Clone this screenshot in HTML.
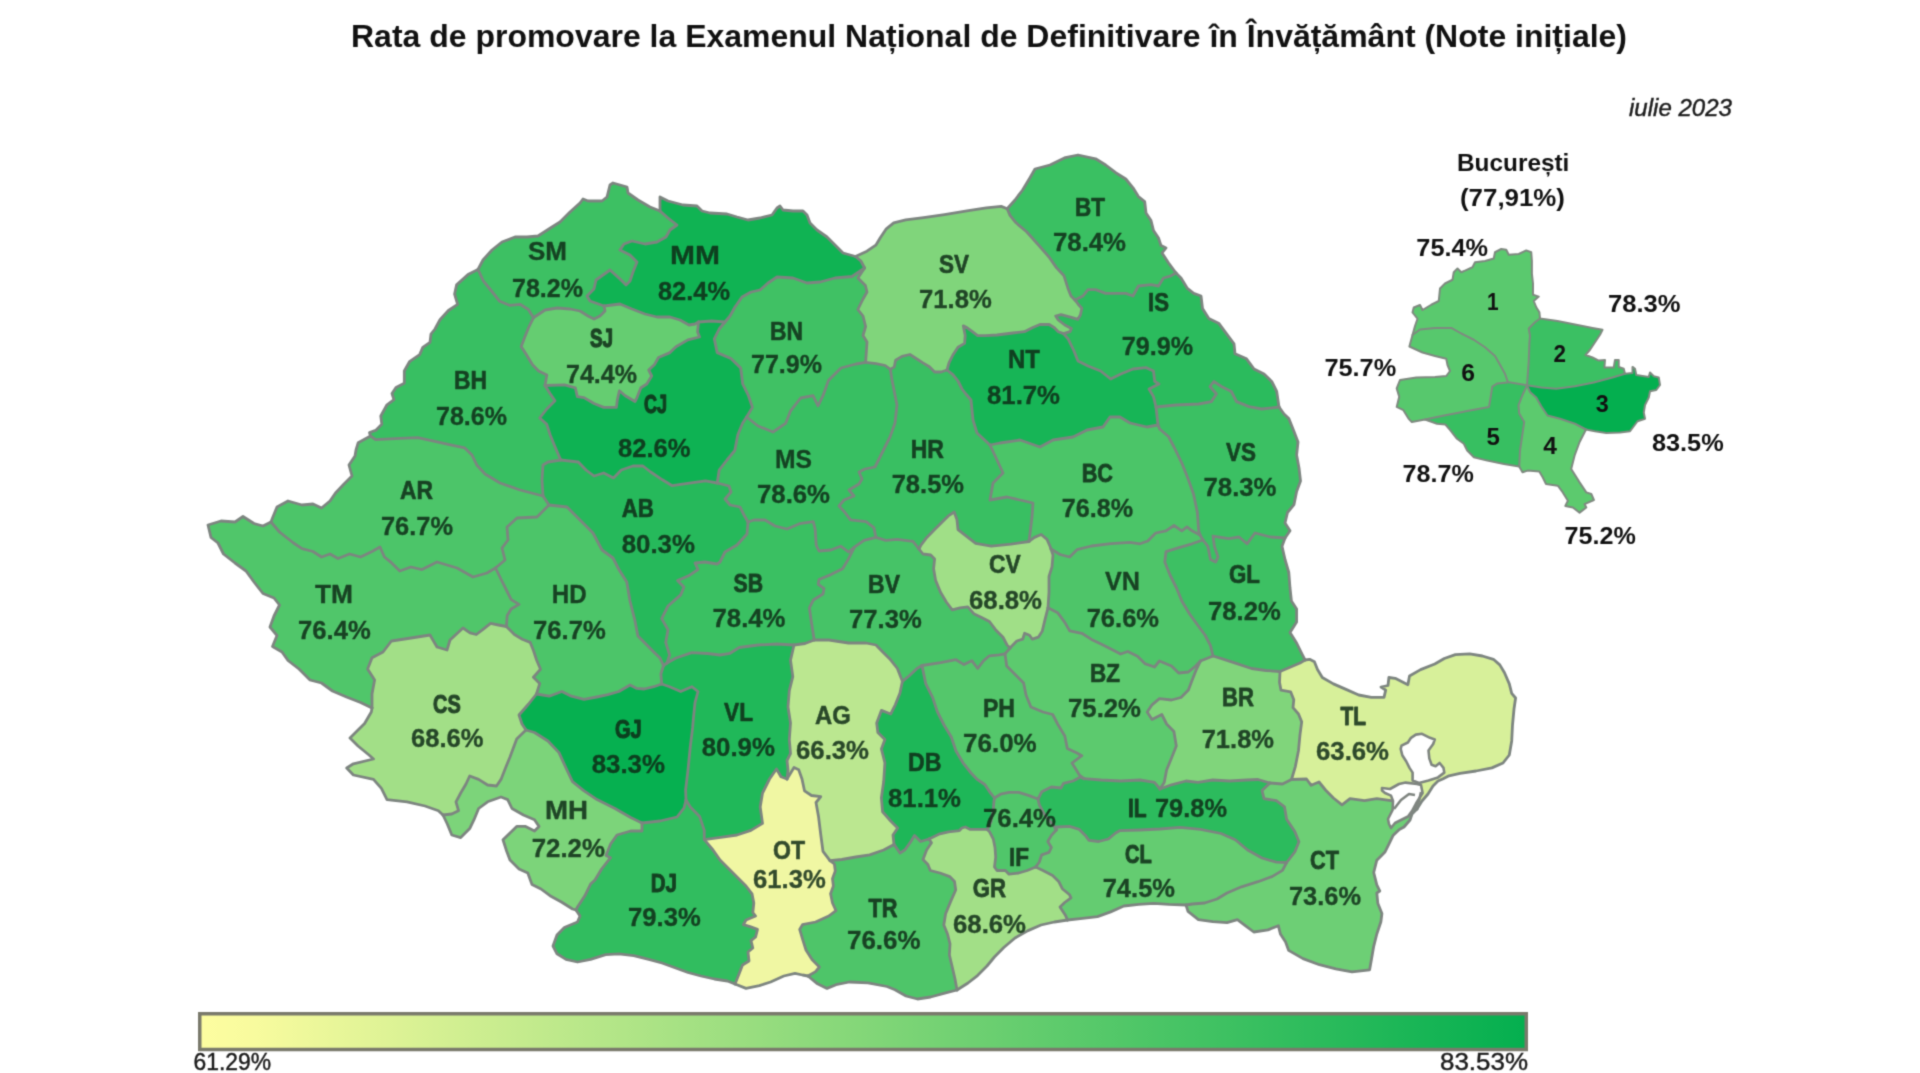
<!DOCTYPE html>
<html lang="ro">
<head>
<meta charset="utf-8">
<title>Rata de promovare la Examenul Național de Definitivare în Învățământ</title>
<style>
html,body{margin:0;padding:0;background:#fff;}
body{width:1920px;height:1073px;overflow:hidden;position:relative;font-family:"Liberation Sans",sans-serif;}
svg{position:absolute;left:0;top:0;display:block;}
.cty polygon{stroke:none;}
.brd polyline{fill:none;stroke:#7d8580;stroke-width:2.8;stroke-linejoin:round;stroke-linecap:round;}
.lab{opacity:.84;}
.lab text{font-family:"Liberation Sans",sans-serif;font-weight:700;font-size:25.2px;fill:#0e2a16;stroke-linejoin:round;}
.buc polygon{stroke:none;}
.bbrd polyline,.bbrd polygon{fill:none;stroke:#7f8a80;stroke-width:2;stroke-linejoin:round;stroke-linecap:round;}
.blab text{font-family:"Liberation Sans",sans-serif;font-weight:700;font-size:24px;fill:#111;}
</style>
</head>
<body>
<svg width="1920" height="1073" viewBox="0 0 1920 1073">
<defs>
<filter id="sb" x="0" y="0" width="1920" height="1073" filterUnits="userSpaceOnUse" color-interpolation-filters="sRGB"><feConvolveMatrix order="3" kernelMatrix="1 4 1 4 16 4 1 4 1" edgeMode="duplicate" preserveAlpha="true"/></filter>
<linearGradient id="lg" x1="0" y1="0" x2="1" y2="0">
<stop offset="0" stop-color="#fdfda0"/><stop offset=".04" stop-color="#f8fb9e"/><stop offset="1" stop-color="#04af4f"/>
</linearGradient>
</defs>
<g filter="url(#sb)">
<rect width="1920" height="1073" fill="#fff"/>
<text x="351" y="47" textLength="1276" lengthAdjust="spacingAndGlyphs" font-family="Liberation Sans, sans-serif" font-weight="700" font-size="32" fill="#111">Rata de promovare la Examenul Național de Definitivare în Învățământ (Note inițiale)</text>
<text x="1629" y="116" textLength="103" lengthAdjust="spacingAndGlyphs" font-family="Liberation Sans, sans-serif" font-style="italic" font-size="24" fill="#1c1c1c" stroke="#1c1c1c" stroke-width=".45">iulie 2023</text>
<g class="cty">
<polygon fill="#3dc063" points="478,269.5 483,260 492,250 502,242 515,237 527,237 538,236 552,227 560,222 570,212 580,203 583,199 588,201 602,201 607,197 610,185 613,183 627,187 628,193 638,200 650,207 660,211 668,218 677,225 670,230 666,237 657,242 645,244 632,241 624,244 620,250 630,255 637,262 633,272 630,281 626,285 620,279 610,270 603,275 596,280 594,289 587,296 590,301 604,306 605,311 600,316 594,319 588,316 580,311 570,309 557,308 545,310 536,316 533.5,317.7 528.4,309.5 520,304.3 510,305.4 499.7,301.3 491.5,291 483.3,280.8"/>
<polygon fill="#10b353" points="660,211 660,197 668,201 683,205 697,206 702,211 710,213 727,214 737,217 748,220 760,218 772,215 777,208 780,206 783,210 793,211 803,211 807,215 810,223 817,230 827,237 835,245 843,253 855.5,256.5 860.9,261 864.6,268 852,276.5 835,278 820,282 807,283 793,278 777,277 768,283 760,290 751,292 742,297 735,307 730,316 725,322 711.4,321 698.5,322 695,324 689,325 680,320 670,317 657,317 645,314 632,309 620,304 604,306 590,301 587,296 594,289 596,280 603,275 610,270 620,279 626,285 630,281 633,272 637,262 630,255 620,250 624,244 632,241 645,244 657,242 666,237 670,230 677,225 668,218"/>
<polygon fill="#38bf62" points="370.5,436 369.5,432.5 375.6,430.4 381.8,424.3 380.8,416 387,404.8 394,399.7 392,393.5 396,387.4 404.3,383.3 404.3,371 409.5,361.7 419.7,354.6 422.8,347.4 430,342.3 431,334 435,329 440,319.7 448.4,310.5 457.6,304.3 454.6,294 456.6,284.9 468,274.6 478,269.5 483.3,280.8 491.5,291 499.7,301.3 510,305.4 520,304.3 528.4,309.5 533.5,317.7 528.4,328 524.3,338.2 521.2,346.4 526.3,354.6 532.5,364.8 538.6,371 546.8,375 545,385.5 550,393.5 555,400.7 546.8,409 539.7,418 546.8,424.3 550,434.5 555,446.8 560.7,460 548,462 543,465 542,480 543,496 520,490 500,483 485,474 477,465.3 472,455 464.8,447.9 450.5,444.8 436,441.7 417.7,437.6 395,438.6 375.6,439.7"/>
<polygon fill="#65cd71" points="533.5,317.7 536,316 545,310 557,308 570,309 580,311 588,316 594,319 600,316 605,311 604,306 620,304 632,309 645,314 657,317 670,317 680,320 689,325 695,324 698.5,322 697.6,332 699.6,337 687.9,339.9 676,346.8 670,352.6 658.5,357.5 654.6,364.4 648.7,370 651.7,376 646.8,384 640.9,387.8 637,397.6 635,401.5 625.2,395.7 619.4,390.8 617.4,399.6 616.4,407.4 603.7,407.4 594,403.5 584,397.6 577.3,396.6 575.3,387.8 564.6,384.9 545,385.5 546.8,375 538.6,371 532.5,364.8 526.3,354.6 521.2,346.4 524.3,338.2 528.4,328"/>
<polygon fill="#0eb253" points="545,385.5 564.6,384.9 575.3,387.8 577.3,396.6 584,397.6 594,403.5 603.7,407.4 616.4,407.4 617.4,399.6 619.4,390.8 625.2,395.7 635,401.5 637,397.6 640.9,387.8 646.8,384 651.7,376 648.7,370 654.6,364.4 658.5,357.5 670,352.6 676,346.8 687.9,339.9 699.6,337 697.6,332 698.5,322 711.4,321 725,322 719.2,329 714.3,338.9 717.2,352.6 730.9,358.5 740.7,368 742.7,384 748.5,395.7 752.4,407.4 746.6,417 742.7,423 737.8,434.8 734.8,450.5 727,460 719.2,470 717.2,483 705.5,480.8 685.9,483.7 672.2,485.7 662.4,479.8 650.7,472 642.9,466 633,466 621.3,470 613.5,477.9 603.7,473 594,476 586,470 578.3,462 560.7,460 555,446.8 550,434.5 546.8,424.3 539.7,418 546.8,409 555,400.7 550,393.5"/>
<polygon fill="#40c164" points="725,322 730,316 735,307 742,297 751,292 760,290 768,283 777,277 793,278 807,283 820,282 835,278 852,276.5 864.6,268 857.9,278 865.4,285.5 867,292 863,299 857.8,309.5 863,316 865.6,326.5 863,335.6 867,342 866.3,352.5 865.6,362.3 856,364 841,368 828.4,380.6 823,395.7 818,405.8 813,395.7 800.7,398 790.6,410.8 785.6,423.4 773,432 758,426 746.6,417 752.4,407.4 748.5,395.7 742.7,384 740.7,368 730.9,358.5 717.2,352.6 714.3,338.9 719.2,329"/>
<polygon fill="#80d57b" points="855.5,256.5 866.9,251.2 875.8,245.2 880.3,237.8 886.3,228.8 893.7,222.8 905.7,219.9 923.6,217.6 944.5,214.6 966.9,210.9 986.3,207.9 1001.2,206.4 1007.2,208.7 1010,215.4 1016,222.8 1026.6,231.8 1038.5,245 1049,257 1056.4,267.6 1064,275.8 1068,288.4 1071,296 1075,300 1078,304 1081.8,308.2 1080.5,314.7 1077.9,319.3 1071.4,317.3 1061,314.7 1055.7,316 1058.3,320 1064.8,325 1071.4,328.4 1070,331.7 1063.5,333.6 1058.3,331.7 1054.4,327.8 1049.2,324.5 1040,324.5 1032.3,327.8 1024.5,331.7 1012.8,333 997,335 985.4,335.6 977.6,335.6 972.4,331.7 967.2,327.8 963.3,325.8 965.2,335.6 964.6,343.4 958,347.3 952.9,355 949,362.9 947,370 941,372 934.6,372 929.4,366.8 922.9,362.9 915,357.7 909.9,354.5 902,356.4 895.6,360.3 894.3,366.8 890.4,369.4 885.2,365.5 876,363.6 865.6,362.3 866.3,352.5 867,342 863,335.6 865.6,326.5 863,316 857.8,309.5 863,299 867,292 865.4,285.5 857.9,278 864.6,268 860.9,261"/>
<polygon fill="#3ac062" points="1007.2,208.7 1015,200 1022.6,190 1030,177.7 1035,169 1050,165 1065.4,157.6 1078,155 1095.6,158.8 1105.7,165 1115.7,172.7 1125.8,179 1133,187.8 1138.4,196.6 1144.7,201.6 1146,213 1151,220.5 1153.5,230.5 1158.5,238 1161,245.6 1166,248 1162,253 1168.6,263 1176,273 1171,275.8 1163.5,278 1158.5,286 1151,284.6 1138.4,286 1133,296 1125.8,293.4 1118,293.4 1105.7,293.4 1095.6,289.6 1088,289.6 1083,296 1075,300 1071,296 1068,288.4 1064,275.8 1056.4,267.6 1049,257 1038.5,245 1026.6,231.8 1016,222.8 1010,215.4"/>
<polygon fill="#2bbb5d" points="1176,273 1181,278 1187.4,288.4 1193.7,293.4 1201,296 1202.5,308.5 1208.8,318.6 1219,323.6 1226.4,333.7 1234,343.8 1235,353.8 1246.5,358.8 1254,369 1264,374 1271.7,381.5 1276.7,391.5 1279,407 1261.6,409 1249,406.6 1236.5,401.6 1231.4,391.5 1221.4,386.5 1213.8,381.5 1210,386.5 1216.4,394 1211.3,401.6 1198.7,404 1176,405 1156,407 1153.5,396.6 1149,389 1159,384 1154.7,381.5 1153.5,371 1146,367.6 1133,369 1120.8,374 1110.7,379 1100.6,371 1088,366 1078,361 1074,351 1068,338.7 1063.5,333.6 1070,331.7 1071.4,328.4 1064.8,325 1058.3,320 1055.7,316 1061,314.7 1071.4,317.3 1077.9,319.3 1080.5,314.7 1081.8,308.2 1078,304 1075,300 1083,296 1088,289.6 1095.6,289.6 1105.7,293.4 1118,293.4 1125.8,293.4 1133,296 1138.4,286 1151,284.6 1158.5,286 1163.5,278 1171,275.8"/>
<polygon fill="#17b556" points="947,370 949,362.9 952.9,355 958,347.3 964.6,343.4 965.2,335.6 963.3,325.8 967.2,327.8 972.4,331.7 977.6,335.6 985.4,335.6 997,335 1012.8,333 1024.5,331.7 1032.3,327.8 1040,324.5 1049.2,324.5 1054.4,327.8 1058.3,331.7 1063.5,333.6 1068,338.7 1074,351 1078,361 1088,366 1100.6,371 1110.7,379 1120.8,374 1133,369 1146,367.6 1153.5,371 1154.7,381.5 1159,384 1149,389 1153.5,396.6 1156,407 1158,425 1147,427 1130,423 1120,417 1110,417 1103,427 1087,430 1073,437 1053,440 1040,447 1020,440 1000,443 990,445 977,433 973,420 971,400 965.9,394 962,389 958,381 952.9,374.6"/>
<polygon fill="#3bc063" points="1279,407 1284,414 1288.8,418.5 1294,431.5 1298,442 1296.6,455 1299,468 1300.5,481 1296.6,491.6 1294,504.6 1287.5,512.5 1285,523 1290,530.7 1285,538 1270.5,537 1255,533 1247,543.8 1239,537 1228.8,538.6 1218,537 1213,536 1214.4,546.4 1218,556.9 1215.7,562 1210.5,559.5 1207.9,546.4 1203,540 1200,535 1198.7,530.8 1197.4,512.5 1193.5,494 1188,478.6 1181.8,463 1174,447 1168.7,436.8 1159.6,429 1158,425 1156,407 1176,405 1198.7,404 1211.3,401.6 1216.4,394 1210,386.5 1213.8,381.5 1221.4,386.5 1231.4,391.5 1236.5,401.6 1249,406.6 1261.6,409"/>
<polygon fill="#4bc568" points="990,445 1000,443 1020,440 1040,447 1053,440 1073,437 1087,430 1103,427 1110,417 1120,417 1130,423 1147,427 1158,425 1159.6,429 1168.7,436.8 1174,447 1181.8,463 1188,478.6 1193.5,494 1197.4,512.5 1198.7,530.8 1200,535 1192,530.8 1187,526.9 1181.8,530.8 1174,525.5 1166,530.8 1155.7,533 1147.8,541 1140,543.8 1130,542.4 1110.9,543.6 1091.5,546 1077,549.7 1069.7,557 1060,554.5 1051,549 1050,546.2 1047,539.4 1041.2,534.5 1034.4,537.4 1029,541.5 1032,517 1033,503 1020,500 1007,497 990,500 993,483 1003,473 997,460"/>
<polygon fill="#39bf62" points="890.4,369.4 894.3,366.8 895.6,360.3 902,356.4 909.9,354.5 915,357.7 922.9,362.9 929.4,366.8 934.6,372 941,372 947,370 952.9,374.6 958,381 962,389 965.9,394 971,400 973,420 977,433 990,445 997,460 1003,473 993,483 990,500 1007,497 1020,500 1033,503 1032,517 1029,541.5 1010.9,544.2 991.3,546.2 975.7,543.3 967.9,537.4 958,529.6 957,519.8 954.2,512 948.3,515.9 942.4,521.7 934.6,529.6 926.8,537.4 920.9,545.2 919,549 913,541.3 897.4,539.4 885.7,540.3 875.9,537.4 873.9,527.6 866,521.7 850.5,519.8 844.6,512 839,506 844,500 854,496 849,490 859,484 862,479 859,472 865,469 875,467 881,455 890,437 895,423 897,405 894.3,391.6 891.7,378.5"/>
<polygon fill="#38bf62" points="746.6,417 758,426 773,432 785.6,423.4 790.6,410.8 800.7,398 813,395.7 818,405.8 823,395.7 828.4,380.6 841,368 856,364 865.6,362.3 876,363.6 885.2,365.5 890.4,369.4 891.7,378.5 894.3,391.6 897,405 895,423 890,437 881,455 875,467 865,469 859,472 862,479 859,484 849,490 854,496 844,500 839,506 844.6,512 850.5,519.8 866,521.7 873.9,527.6 875.9,537.4 864,540.3 854.4,547.2 848.5,552 840.7,546.2 830.9,550 819,551 816.2,545.2 815.2,529.6 813.3,521.7 799.6,523.7 787,529 775,526 765,520 754,520 748,522 744,515 740,507 730,505 725,499 731,492 729,486 717.2,483 719.2,470 727,460 734.8,450.5 737.8,434.8 742.7,423"/>
<polygon fill="#26b95b" points="560.7,460 578.3,462 586,470 594,476 603.7,473 613.5,477.9 621.3,470 633,466 642.9,466 650.7,472 662.4,479.8 672.2,485.7 685.9,483.7 705.5,480.8 717.2,483 729,486 731,492 725,499 730,505 740,507 744,515 748,522 747,534 737,545 725,552 720,562 717,564 705,562 695,563 698,569.5 688.6,575.8 677.5,580.6 683.9,587 680.7,594.9 668,606 661.7,618.6 668,629.7 665.7,642.4 669.6,655 667,663 663.5,665.5 660,658 653.8,651.9 645.9,644 637.9,636 634.8,620 630,601 626.8,582 618.9,569.5 613,558 602,550 593,533 580,520 567,507 549,505 543,496 542,480 543,465 548,462"/>
<polygon fill="#4cc569" points="271,522 272.5,518 277,507 288,501 302,505 313,504 321.5,508 330,501 335.5,493 344,484 352,476 349,465 355,456 356,450 358.2,442.7 370.5,436 375.6,439.7 395,438.6 417.7,437.6 436,441.7 450.5,444.8 464.8,447.9 472,455 477,465.3 485,474 500,483 520,490 543,496 549,505 537,517 517,518 507,527 508,540 502,548 505,560 495.5,568 487,573 473,577 457,568 437,562 422,569.6 411,567 399.8,571 391.4,562.7 384.4,557 380,547 372,551.5 360.6,557 349.5,554 338,558.5 330,554 321.5,557 313,551.5 302,548.7 293.5,543 279.5,532"/>
<polygon fill="#50c66a" points="372,708 360.6,702.5 346.5,697 332.5,691 321.5,683 310,680 299,669 288,660.5 282,652 272.5,646.5 277,635.5 270,627 274,616 279.5,605 274,598 263,593.5 254,582 246,571 235,563 223.5,554 218,543 211,537.5 208,525 221,521 235,522 243,516.5 254,523.5 263,526 271,522 279.5,532 293.5,543 302,548.7 313,551.5 321.5,557 330,554 338,558.5 349.5,554 360.6,557 372,551.5 380,547 384.4,557 391.4,562.7 399.8,571 411,567 422,569.6 437,562 457,568 473,577 487,573 495.5,568 500.9,579 506.4,590 511.2,599.6 519,604.4 511.2,609 507.2,615.4 506.4,626.5 498.5,625 490.6,623.4 482.7,629.7 476.3,634.5 470,632.9 463,628 450,640 447,650 437,647 430,635 411,638 391.4,641 383,652 372,657.8 367.6,669 374.6,680 372,694"/>
<polygon fill="#4cc569" points="495.5,568 505,560 502,548 508,540 507,527 517,518 537,517 549,505 567,507 580,520 593,533 602,550 613,558 618.9,569.5 626.8,582 630,601 634.8,620 637.9,636 645.9,644 653.8,651.9 660,658 663.5,665.5 660.9,674 661.7,684 653.8,686.7 644.3,689 636.3,688.3 630,685 618.9,691.5 607.8,694.7 596.7,697 584,699.4 571.4,696.2 561.9,691.5 549.2,696.2 536.5,694 539.7,683.6 533.4,677.2 540.5,669.3 536.5,659.8 533.4,650.3 530.2,642.4 522.3,639.2 514.4,634.5 506.4,626.5 507.2,615.4 511.2,609 519,604.4 511.2,599.6 506.4,590 500.9,579"/>
<polygon fill="#a2df87" points="443,815 438.4,810.7 425,806 407,801.8 387,799.6 381.4,788.4 373.5,779.4 353.4,775 346.7,768 353.4,763.8 373.5,759 369,755 358,746 350,738 358,730 364.6,723.5 371.3,712 372,708 372,694 374.6,680 367.6,669 372,657.8 383,652 391.4,641 411,638 430,635 437,647 447,650 450,640 463,628 470,632.9 476.3,634.5 482.7,629.7 490.6,623.4 498.5,625 506.4,626.5 514.4,634.5 522.3,639.2 530.2,642.4 533.4,650.3 536.5,659.8 540.5,669.3 533.4,677.2 539.7,683.6 536.5,694 528.6,704 519,715 522,724 526,730 516.7,739 510,757 505.5,768 501,779.4 496.5,786 487.6,785 478.6,779.4 469.7,776 466,784 460.7,793 456,801.8 458.5,810.7 451.8,814"/>
<polygon fill="#7cd47a" points="576,910 572.5,909 561.4,902 550,895.7 541,889 532,884.5 527.8,873 519,869 510,860 506.6,851 503,839.8 510,833 516.7,826.4 525.6,826.4 534.5,831 539,826.4 534.5,819.7 523.4,815 512,808.5 507.7,799.6 501,797 487.6,801.8 478.6,808.5 474,819.7 469.7,828.6 460.7,837.6 451.8,835 447.3,824 443,815 451.8,814 458.5,810.7 456,801.8 460.7,793 466,784 469.7,776 478.6,779.4 487.6,785 496.5,786 501,779.4 505.5,768 510,757 516.7,739 526,730 534.5,732.5 548,741 559,752.6 566,768 572.5,781.7 583.7,790.6 597,799.6 615,808.5 630.7,817.5 642,823 642,831 630.7,831 617,835 610.6,844 606,855.5 610.6,857.7 601.6,869 595,880 590.6,884 585,895.6 577.5,907"/>
<polygon fill="#06b050" points="536.5,694 549.2,696.2 561.9,691.5 571.4,696.2 584,699.4 596.7,697 607.8,694.7 618.9,691.5 630,685 636.3,688.3 644.3,689 653.8,686.7 661.7,684 669.6,686.7 680.7,691.5 691.8,686.7 698,691.5 695,702.6 693.4,718.4 692.6,727.9 690.3,746.5 688,769.8 685.6,790 686,800 684,808 677,817 660,821 642,823 630.7,817.5 615,808.5 597,799.6 583.7,790.6 572.5,781.7 566,768 559,752.6 548,741 534.5,732.5 526,730 522,724 519,715 528.6,704"/>
<polygon fill="#20b859" points="661.7,684 660.9,674 663.5,665.5 667,663 676,658 691.8,652.7 707.6,653.5 720,655 730,653.3 739.2,647.5 757.9,645 776.5,644 794,645 790.5,660.3 792.8,676.6 789.3,690.6 788,707 790.5,723 789.3,739.5 790.5,753.5 787,760.5 788,770 787,779 781,776.8 776.5,769 769.5,779 762.5,793 760.2,807 762.5,823.4 750.9,830.4 737,835 720.6,837.4 704.3,839.7 704.3,830.4 699.6,816.4 690.3,807 686,800 685.6,790 688,769.8 690.3,746.5 692.6,727.9 693.4,718.4 695,702.6 698,691.5 691.8,686.7 680.7,691.5 669.6,686.7"/>
<polygon fill="#3ac062" points="667,663 669.6,655 665.7,642.4 668,629.7 661.7,618.6 668,606 680.7,594.9 683.9,587 677.5,580.6 688.6,575.8 698,569.5 695,563 705,562 717,564 720,562 725,552 737,545 747,534 748,522 754,520 765,520 775,526 787,529 799.6,523.7 813.3,521.7 815.2,529.6 816.2,545.2 819,551 830.9,550 840.7,546.2 848.5,552 854.4,547.2 848.5,558.9 842.6,568.7 830.9,574.6 819,579.5 818.2,584.4 824,588.3 823,594 813.3,600 809.4,607.8 811.3,621.5 814.2,640 805,643.5 794,645 776.5,644 757.9,645 739.2,647.5 730,653.3 720,655 707.6,653.5 691.8,652.7 676,658"/>
<polygon fill="#46c367" points="854.4,547.2 864,540.3 875.9,537.4 885.7,540.3 897.4,539.4 913,541.3 919,549 922.9,554 930.7,555 934.6,558.9 933.6,568.7 935.6,580.4 940.5,592.2 946.3,602 952.2,609.8 960,607.8 967.9,606.9 973.7,613.7 981.6,617.6 989.4,621.5 995.3,629.4 1003,637.2 1007,645 1010,648 1005,653.8 999.2,654.8 989.4,655.8 983.6,660.7 977.7,668.5 971.8,660.7 964,664.6 956,659.7 940.5,662.6 922,665.5 917,668.5 909,676 902.4,681.3 897.4,668.5 889.6,658.7 881.8,650.9 876,645 866,643 848.5,643 829,640 814.2,640 811.3,621.5 809.4,607.8 813.3,600 823,594 824,588.3 818.2,584.4 819,579.5 830.9,574.6 842.6,568.7 848.5,558.9"/>
<polygon fill="#a0df87" points="919,549 920.9,545.2 926.8,537.4 934.6,529.6 942.4,521.7 948.3,515.9 954.2,512 957,519.8 958,529.6 967.9,537.4 975.7,543.3 991.3,546.2 1010.9,544.2 1029,541.5 1034.4,537.4 1041.2,534.5 1047,539.4 1050,546.2 1051,549 1053,555 1052,566.8 1049,576.5 1049,592.2 1048,607.8 1045,619.6 1042.2,631.3 1038.3,637.2 1032.4,639.2 1029.5,635.2 1024.6,633.3 1022.7,639.2 1016.8,641 1010,648 1007,645 1003,637.2 995.3,629.4 989.4,621.5 981.6,617.6 973.7,613.7 967.9,606.9 960,607.8 952.2,609.8 946.3,602 940.5,592.2 935.6,580.4 933.6,568.7 934.6,558.9 930.7,555 922.9,554"/>
<polygon fill="#4ec569" points="1051,549 1060,554.5 1069.7,557 1077,549.7 1091.5,546 1110.9,543.6 1130,542.4 1140,543.8 1147.8,541 1155.7,533 1166,530.8 1174,525.5 1181.8,530.8 1187,526.9 1192,530.8 1200,535 1203,540 1192,543.8 1179,547.7 1166,551.7 1164.8,562 1170,575 1176.5,588 1181.8,601 1189.6,614 1197.4,624.8 1205,635 1210.5,645.7 1213,656 1200.5,661 1195.7,666 1188.4,672 1178.7,673 1171.5,666 1159.4,661 1154.5,667 1144.8,663.6 1137.5,656.3 1127.8,651.5 1120.6,654 1110.9,649 1101,644 1091.5,639.4 1081.8,633.3 1069.7,630.9 1064.8,622.4 1057.6,612.7 1048,607.8 1049,592.2 1049,576.5 1052,566.8 1053,555"/>
<polygon fill="#3dc063" points="1285,538 1282,546.4 1285,559.5 1288.8,572.5 1290,588 1291.4,601 1296.6,609 1296.6,622 1290,632.6 1296.6,643 1302,654 1305,660 1300,663 1290.6,667 1280,671.5 1266,670.5 1251.5,668.5 1236.9,663.6 1222.4,658.8 1213,656 1210.5,645.7 1205,635 1197.4,624.8 1189.6,614 1181.8,601 1176.5,588 1170,575 1164.8,562 1166,551.7 1179,547.7 1192,543.8 1203,540 1207.9,546.4 1210.5,559.5 1215.7,562 1218,556.9 1214.4,546.4 1213,536 1218,537 1228.8,538.6 1239,537 1247,543.8 1255,533 1270.5,537"/>
<polygon fill="#5cca6e" points="1048,607.8 1057.6,612.7 1064.8,622.4 1069.7,630.9 1081.8,633.3 1091.5,639.4 1101,644 1110.9,649 1120.6,654 1127.8,651.5 1137.5,656.3 1144.8,663.6 1154.5,667 1159.4,661 1171.5,666 1178.7,673 1188.4,672 1195.7,666 1200.5,661 1195.7,670.9 1192,680.6 1188.4,690 1181,697.5 1171.5,700 1159.4,698.7 1152,704.8 1147.2,712 1152,719.4 1161.8,714.5 1166.6,724 1173.9,731.5 1176.3,746 1171.5,758 1166.6,770 1164.2,782.4 1160,789 1154.5,782.4 1140,780 1120.6,781 1101,780 1084,778.7 1079.4,775 1072,763 1081.8,755.7 1077,753 1067.3,748.4 1064.8,736 1057.6,724 1052.7,714.5 1043,712 1030.9,707 1026,695 1023.6,683 1016.4,675.7 1006.7,666 1005,653.8 1010,648 1016.8,641 1022.7,639.2 1024.6,633.3 1029.5,635.2 1032.4,639.2 1038.3,637.2 1042.2,631.3 1045,619.6"/>
<polygon fill="#80d57b" points="1200.5,661 1213,656 1222.4,658.8 1236.9,663.6 1251.5,668.5 1266,670.5 1280,671.5 1279.5,682.3 1281,690.2 1290.6,691.8 1293.8,699.7 1293,707.7 1298.5,714 1301.7,721.9 1300,734.6 1298.5,750.4 1295.4,766.3 1291.5,779.5 1282.5,784 1270,783 1258,779.5 1246.6,780 1229.6,781 1212.7,780 1198,782.4 1186,781 1171.5,784.8 1160,789 1164.2,782.4 1166.6,770 1171.5,758 1176.3,746 1173.9,731.5 1166.6,724 1161.8,714.5 1152,719.4 1147.2,712 1152,704.8 1159.4,698.7 1171.5,700 1181,697.5 1188.4,690 1192,680.6 1195.7,670.9"/>
<polygon fill="#d7f09a" points="1305,660 1309.6,659.3 1314.4,661.7 1317.5,669.6 1322.3,677.5 1333.4,683.9 1346,689.4 1358.7,695 1371.4,697.3 1384,697.3 1385.7,690.2 1381,687 1388,685.5 1388.9,677.5 1395.2,678.3 1407.9,684.7 1409.5,676 1420.6,669.6 1434.8,664 1444.3,658.5 1455.4,654.6 1469.7,653.8 1482.4,656 1493.4,659.3 1499.8,664.9 1504.5,672.8 1509.3,683.9 1511.7,693.4 1515.6,698 1514,709 1512.5,725 1511.7,740.9 1509.3,755 1503,763 1491.9,767.9 1476,771 1460,773.4 1449,775.8 1442.7,779 1438,781 1433,786 1428,794 1422,801 1417,809 1410,805 1400,802 1391,800.7 1376.8,798.7 1364.5,800.7 1350,798.7 1342,804.8 1333.4,798 1325.5,790 1319,782 1311.2,785.3 1306.5,779 1291.5,779.5 1295.4,766.3 1298.5,750.4 1300,734.6 1301.7,721.9 1298.5,714 1293,707.7 1293.8,699.7 1290.6,691.8 1281,690.2 1279.5,682.3 1280,671.5 1290.6,667 1300,663"/>
<polygon fill="#6dcf75" points="1417,809 1412,814 1410,820 1404,827 1399.3,829.4 1393,835.6 1389,843.8 1385,852 1376.8,860.2 1373.7,872.5 1376.8,884.8 1379.8,891 1376.8,893 1377.8,903.2 1381.9,913.5 1380.9,921.7 1376.8,934 1373.7,946.3 1371.6,958.6 1369.6,969.8 1352,971.9 1335.8,968.8 1319.4,964.7 1303,958.6 1288.6,950.4 1285.6,942 1280.4,934 1278.4,925.8 1268,929.9 1253.8,932 1245.6,925.8 1237.4,919.6 1227,922.7 1212.8,921.7 1198.4,919.6 1188,911.4 1186,905 1192.3,904 1204.6,903 1217,899 1227,893 1241.5,886.8 1258,881.7 1272,876.6 1282.5,870.4 1286.6,862.5 1294.8,852 1298.9,841.7 1294.8,831.5 1286.6,819.2 1284.5,806.9 1276.3,800.7 1264,798.7 1262,790.5 1270,783 1282.5,784 1291.5,779.5 1306.5,779 1311.2,785.3 1319,782 1325.5,790 1333.4,798 1342,804.8 1350,798.7 1364.5,800.7 1376.8,798.7 1391,800.7 1400,802 1410,805"/>
<polygon fill="#2cbb5d" points="1084,778.7 1101,780 1120.6,781 1140,780 1154.5,782.4 1160,789 1171.5,784.8 1186,781 1198,782.4 1212.7,780 1229.6,781 1246.6,780 1258,779.5 1270,783 1262,790.5 1264,798.7 1276.3,800.7 1284.5,806.9 1286.6,819.2 1294.8,831.5 1298.9,841.7 1294.8,852 1286.6,862.5 1276.3,862.2 1262,858 1247.6,850 1235.3,839.7 1221,833.5 1200.5,829.4 1180,827.4 1160,829 1140,830 1120,830.6 1115.6,833 1108.4,839 1098.7,841.5 1089,840.3 1085.3,835.4 1079.3,829.4 1069.6,826.3 1056.3,827 1056.3,830 1053.8,825.7 1045.4,816 1039.3,805 1038,799 1041.7,791.8 1051.4,787 1061,788 1063.5,783.3 1073,781 1080.5,777"/>
<polygon fill="#64cc71" points="1186,905 1168.8,904.4 1153.8,903.4 1138.8,904.4 1123.8,906 1110.6,911.9 1097.5,916.6 1082.5,918.4 1067.5,920 1065.6,915.6 1060,907 1064.7,902.5 1071,897.8 1069.6,894.8 1062.3,888.7 1058.7,881.4 1052.6,875.4 1043,870.5 1035.7,867 1039.3,862 1041.7,854.8 1049,852.4 1051.4,847.5 1047.8,841.5 1051.4,835.4 1056.3,830 1056.3,827 1069.6,826.3 1079.3,829.4 1085.3,835.4 1089,840.3 1098.7,841.5 1108.4,839 1115.6,833 1120,830.6 1140,830 1160,829 1180,827.4 1200.5,829.4 1221,833.5 1235.3,839.7 1247.6,850 1262,858 1276.3,862.2 1286.6,862.5 1282.5,870.4 1272,876.6 1258,881.7 1241.5,886.8 1227,893 1217,899 1204.6,903 1192.3,904"/>
<polygon fill="#54c76b" points="922,665.5 940.5,662.6 956,659.7 964,664.6 971.8,660.7 977.7,668.5 983.6,660.7 989.4,655.8 999.2,654.8 1005,653.8 1006.7,666 1016.4,675.7 1023.6,683 1026,695 1030.9,707 1043,712 1052.7,714.5 1057.6,724 1064.8,736 1067.3,748.4 1077,753 1081.8,755.7 1072,763 1079.4,775 1084,778.7 1080.5,777 1073,781 1063.5,783.3 1061,788 1051.4,787 1041.7,791.8 1038,799 1028.4,795.4 1018.7,792.4 1009,792.4 1000.5,794.2 994.5,798 989.6,791.8 984.8,784.5 977.5,779.7 971.5,773.6 963,762.8 956,751 951.3,737 944.3,725.5 937.3,711.6 932.7,697.6 925.7,683.6"/>
<polygon fill="#1eb758" points="902.4,681.3 909,676 917,668.5 922,665.5 925.7,683.6 932.7,697.6 937.3,711.6 944.3,725.5 951.3,737 956,751 963,762.8 971.5,773.6 977.5,779.7 984.8,784.5 989.6,791.8 994.5,798 993.9,801.5 993.3,810 990.9,822 987.2,829.4 977.5,829.4 970.3,829.4 965.4,827 961.8,828 959.4,830.6 948.5,831.8 938.8,834.2 929,839 920.6,841.5 914.5,835.4 910.9,841.5 904.8,850 900,853 894,844.4 893,835 897.7,828 890.7,821 882.6,811.8 881.4,797.8 883.7,781.5 884.9,762.8 881.4,748.9 884.9,739.5 877.9,732.5 876.7,723 881.4,710.4 890.7,714 895.4,704.6 900,693"/>
<polygon fill="#bbe790" points="794,645 805,643.5 814.2,640 829,640 848.5,643 866,643 876,645 881.8,650.9 889.6,658.7 897.4,668.5 902.4,681.3 900,693 895.4,704.6 890.7,714 881.4,710.4 876.7,723 877.9,732.5 884.9,739.5 881.4,748.9 884.9,762.8 883.7,781.5 881.4,797.8 882.6,811.8 890.7,821 897.7,828 893,835 894,844.4 883.7,850 869.7,854.9 855.8,857 841.8,859.5 830,860.7 823,851.4 820.8,835 818.5,816.4 816,802.5 820.8,796.6 811.5,795.5 804.5,790.8 802,779 798.7,769.8 794,767.5 787,779 788,770 787,760.5 790.5,753.5 789.3,739.5 790.5,723 788,707 789.3,690.6 792.8,676.6 790.5,660.3"/>
<polygon fill="#f0f7a3" points="808,976 802.5,975 795,973.4 783.8,976 770.6,982 759.4,985.6 746,988.4 735,984 738.8,974.4 742.5,965 749,961 748,952 752.8,948 751,940.6 755.6,937 757.5,929.4 750,926.6 743.4,924.7 746,920 755.6,916 752.8,912.5 753.8,903 752,893.8 746,886 737,877 727.5,867.5 720,860 713,850 704.3,839.7 720.6,837.4 737,835 750.9,830.4 762.5,823.4 760.2,807 762.5,793 769.5,779 776.5,769 781,776.8 787,779 794,767.5 798.7,769.8 802,779 804.5,790.8 811.5,795.5 820.8,796.6 816,802.5 818.5,816.4 820.8,835 823,851.4 830,860.7 834.4,864 835.3,871 832.5,878.8 833.4,886 830.6,893.8 832.5,903 836,910.6 828.8,916 815.6,922 802.5,924.7 799.7,929.4 802.5,938.8 806,950 812,959.4 819.4,967 815.6,971.6"/>
<polygon fill="#31bd5f" points="735,984 727.5,981 714.4,979 701,976 688,972.5 675,967.8 662,963 648.8,959.4 633.8,955.6 618.8,953.8 605.6,954.7 590.6,959.4 577.5,962 566,959.4 557,953.8 553,946 557,935 564.4,927.5 577.5,922 580,916 576,910 577.5,907 585,895.6 590.6,884 595,880 601.6,869 610.6,857.7 606,855.5 610.6,844 617,835 630.7,831 642,831 642,823 660,821 677,817 684,808 686,800 690.3,807 699.6,816.4 704.3,830.4 704.3,839.7 713,850 720,860 727.5,867.5 737,877 746,886 752,893.8 753.8,903 752.8,912.5 755.6,916 746,920 743.4,924.7 750,926.6 757.5,929.4 755.6,937 751,940.6 752.8,948 748,952 749,961 742.5,965 738.8,974.4"/>
<polygon fill="#4ec569" points="957,990 943.8,993.4 930.6,997 917.5,999 906,996 895,989.7 887,986.5 868,982.8 849.4,982 836,984.7 827,988.4 817.5,983.8 808,976 815.6,971.6 819.4,967 812,959.4 806,950 802.5,938.8 799.7,929.4 802.5,924.7 815.6,922 828.8,916 836,910.6 832.5,903 830.6,893.8 833.4,886 832.5,878.8 835.3,871 834.4,864 830,860.7 841.8,859.5 855.8,857 869.7,854.9 883.7,850 894,844.4 900,853 904.8,850 910.9,841.5 914.5,835.4 920.6,841.5 929,839 931.5,842.7 926.6,850 923,859.6 927.9,864.5 930.3,870.5 940,873 949.7,876.6 954.5,881.4 955.7,890 951,900.6 945.6,913.8 943.8,925 947.5,934 950,943.8 949.4,955 952,966 955,979"/>
<polygon fill="#a2df87" points="1067.5,920 1054.4,922 1041,925 1028,930.6 1015,938 1003.8,947.5 994.4,957 987,966 977.5,975.6 968,983 957,990 955,979 952,966 949.4,955 950,943.8 947.5,934 943.8,925 945.6,913.8 951,900.6 955.7,890 954.5,881.4 949.7,876.6 940,873 930.3,870.5 927.9,864.5 923,859.6 926.6,850 931.5,842.7 929,839 938.8,834.2 948.5,831.8 959.4,830.6 961.8,828 965.4,827 970.3,829.4 977.5,829.4 987.2,829.4 989.6,831.8 993.3,839 995,847.5 995.7,857.2 994.5,866.9 997,870.5 1005.4,870.5 1009,874.2 1018.7,873 1027.2,870.5 1035.7,867 1043,870.5 1052.6,875.4 1058.7,881.4 1062.3,888.7 1069.6,894.8 1071,897.8 1064.7,902.5 1060,907 1065.6,915.6"/>
<polygon fill="#50c66a" points="994.5,798 1000.5,794.2 1009,792.4 1018.7,792.4 1028.4,795.4 1038,799 1039.3,805 1045.4,816 1053.8,825.7 1056.3,830 1051.4,835.4 1047.8,841.5 1051.4,847.5 1049,852.4 1041.7,854.8 1039.3,862 1035.7,867 1027.2,870.5 1018.7,873 1009,874.2 1005.4,870.5 997,870.5 994.5,866.9 995.7,857.2 995,847.5 993.3,839 989.6,831.8 987.2,829.4 990.9,822 993.3,810 993.9,801.5"/>
</g>
<g class="brd">
<polyline points="370.5,436 369.5,432.5 375.6,430.4 381.8,424.3 380.8,416 387,404.8 394,399.7 392,393.5 396,387.4 404.3,383.3 404.3,371 409.5,361.7 419.7,354.6 422.8,347.4 430,342.3 431,334 435,329 440,319.7 448.4,310.5 457.6,304.3 454.6,294 456.6,284.9 468,274.6 478,269.5"/>
<polyline points="478,269.5 483,260 492,250 502,242 515,237 527,237 538,236 552,227 560,222 570,212 580,203 583,199 588,201 602,201 607,197 610,185 613,183 627,187 628,193 638,200 650,207 660,211"/>
<polyline points="660,211 660,197 668,201 683,205 697,206 702,211 710,213 727,214 737,217 748,220 760,218 772,215 777,208 780,206 783,210 793,211 803,211 807,215 810,223 817,230 827,237 835,245 843,253 855.5,256.5"/>
<polyline points="855.5,256.5 866.9,251.2 875.8,245.2 880.3,237.8 886.3,228.8 893.7,222.8 905.7,219.9 923.6,217.6 944.5,214.6 966.9,210.9 986.3,207.9 1001.2,206.4 1007.2,208.7"/>
<polyline points="1007.2,208.7 1015,200 1022.6,190 1030,177.7 1035,169 1050,165 1065.4,157.6 1078,155 1095.6,158.8 1105.7,165 1115.7,172.7 1125.8,179 1133,187.8 1138.4,196.6 1144.7,201.6 1146,213 1151,220.5 1153.5,230.5 1158.5,238 1161,245.6 1166,248 1162,253 1168.6,263 1176,273"/>
<polyline points="1176,273 1181,278 1187.4,288.4 1193.7,293.4 1201,296 1202.5,308.5 1208.8,318.6 1219,323.6 1226.4,333.7 1234,343.8 1235,353.8 1246.5,358.8 1254,369 1264,374 1271.7,381.5 1276.7,391.5 1279,407"/>
<polyline points="1279,407 1284,414 1288.8,418.5 1294,431.5 1298,442 1296.6,455 1299,468 1300.5,481 1296.6,491.6 1294,504.6 1287.5,512.5 1285,523 1290,530.7 1285,538"/>
<polyline points="1285,538 1282,546.4 1285,559.5 1288.8,572.5 1290,588 1291.4,601 1296.6,609 1296.6,622 1290,632.6 1296.6,643 1302,654 1305,660"/>
<polyline points="1305,660 1309.6,659.3 1314.4,661.7 1317.5,669.6 1322.3,677.5 1333.4,683.9 1346,689.4 1358.7,695 1371.4,697.3 1384,697.3 1385.7,690.2 1381,687 1388,685.5 1388.9,677.5 1395.2,678.3 1407.9,684.7 1409.5,676 1420.6,669.6 1434.8,664 1444.3,658.5 1455.4,654.6 1469.7,653.8 1482.4,656 1493.4,659.3 1499.8,664.9 1504.5,672.8 1509.3,683.9 1511.7,693.4 1515.6,698 1514,709 1512.5,725 1511.7,740.9 1509.3,755 1503,763 1491.9,767.9 1476,771 1460,773.4 1449,775.8 1442.7,779 1438,781 1433,786 1428,794 1422,801 1417,809"/>
<polyline points="1417,809 1412,814 1410,820 1404,827 1399.3,829.4 1393,835.6 1389,843.8 1385,852 1376.8,860.2 1373.7,872.5 1376.8,884.8 1379.8,891 1376.8,893 1377.8,903.2 1381.9,913.5 1380.9,921.7 1376.8,934 1373.7,946.3 1371.6,958.6 1369.6,969.8 1352,971.9 1335.8,968.8 1319.4,964.7 1303,958.6 1288.6,950.4 1285.6,942 1280.4,934 1278.4,925.8 1268,929.9 1253.8,932 1245.6,925.8 1237.4,919.6 1227,922.7 1212.8,921.7 1198.4,919.6 1188,911.4 1186,905"/>
<polyline points="1186,905 1168.8,904.4 1153.8,903.4 1138.8,904.4 1123.8,906 1110.6,911.9 1097.5,916.6 1082.5,918.4 1067.5,920"/>
<polyline points="1067.5,920 1054.4,922 1041,925 1028,930.6 1015,938 1003.8,947.5 994.4,957 987,966 977.5,975.6 968,983 957,990"/>
<polyline points="957,990 943.8,993.4 930.6,997 917.5,999 906,996 895,989.7 887,986.5 868,982.8 849.4,982 836,984.7 827,988.4 817.5,983.8 808,976"/>
<polyline points="808,976 802.5,975 795,973.4 783.8,976 770.6,982 759.4,985.6 746,988.4 735,984"/>
<polyline points="735,984 727.5,981 714.4,979 701,976 688,972.5 675,967.8 662,963 648.8,959.4 633.8,955.6 618.8,953.8 605.6,954.7 590.6,959.4 577.5,962 566,959.4 557,953.8 553,946 557,935 564.4,927.5 577.5,922 580,916 576,910"/>
<polyline points="576,910 572.5,909 561.4,902 550,895.7 541,889 532,884.5 527.8,873 519,869 510,860 506.6,851 503,839.8 510,833 516.7,826.4 525.6,826.4 534.5,831 539,826.4 534.5,819.7 523.4,815 512,808.5 507.7,799.6 501,797 487.6,801.8 478.6,808.5 474,819.7 469.7,828.6 460.7,837.6 451.8,835 447.3,824 443,815"/>
<polyline points="443,815 438.4,810.7 425,806 407,801.8 387,799.6 381.4,788.4 373.5,779.4 353.4,775 346.7,768 353.4,763.8 373.5,759 369,755 358,746 350,738 358,730 364.6,723.5 371.3,712 372,708"/>
<polyline points="372,708 360.6,702.5 346.5,697 332.5,691 321.5,683 310,680 299,669 288,660.5 282,652 272.5,646.5 277,635.5 270,627 274,616 279.5,605 274,598 263,593.5 254,582 246,571 235,563 223.5,554 218,543 211,537.5 208,525 221,521 235,522 243,516.5 254,523.5 263,526 271,522"/>
<polyline points="271,522 272.5,518 277,507 288,501 302,505 313,504 321.5,508 330,501 335.5,493 344,484 352,476 349,465 355,456 356,450 358.2,442.7 370.5,436"/>
<polyline points="478,269.5 483.3,280.8 491.5,291 499.7,301.3 510,305.4 520,304.3 528.4,309.5 533.5,317.7"/>
<polyline points="533.5,317.7 536,316 545,310 557,308 570,309 580,311 588,316 594,319 600,316 605,311 604,306"/>
<polyline points="604,306 590,301 587,296 594,289 596,280 603,275 610,270 620,279 626,285 630,281 633,272 637,262 630,255 620,250 624,244 632,241 645,244 657,242 666,237 670,230 677,225 668,218 660,211"/>
<polyline points="604,306 620,304 632,309 645,314 657,317 670,317 680,320 689,325 695,324 698.5,322"/>
<polyline points="855.5,256.5 860.9,261 864.6,268"/>
<polyline points="698.5,322 711.4,321 725,322"/>
<polyline points="725,322 730,316 735,307 742,297 751,292 760,290 768,283 777,277 793,278 807,283 820,282 835,278 852,276.5 864.6,268"/>
<polyline points="533.5,317.7 528.4,328 524.3,338.2 521.2,346.4 526.3,354.6 532.5,364.8 538.6,371 546.8,375 545,385.5"/>
<polyline points="698.5,322 697.6,332 699.6,337 687.9,339.9 676,346.8 670,352.6 658.5,357.5 654.6,364.4 648.7,370 651.7,376 646.8,384 640.9,387.8 637,397.6 635,401.5 625.2,395.7 619.4,390.8 617.4,399.6 616.4,407.4 603.7,407.4 594,403.5 584,397.6 577.3,396.6 575.3,387.8 564.6,384.9 545,385.5"/>
<polyline points="545,385.5 550,393.5 555,400.7 546.8,409 539.7,418 546.8,424.3 550,434.5 555,446.8 560.7,460"/>
<polyline points="560.7,460 548,462 543,465 542,480 543,496"/>
<polyline points="370.5,436 375.6,439.7 395,438.6 417.7,437.6 436,441.7 450.5,444.8 464.8,447.9 472,455 477,465.3 485,474 500,483 520,490 543,496"/>
<polyline points="543,496 549,505"/>
<polyline points="549,505 537,517 517,518 507,527 508,540 502,548 505,560 495.5,568"/>
<polyline points="271,522 279.5,532 293.5,543 302,548.7 313,551.5 321.5,557 330,554 338,558.5 349.5,554 360.6,557 372,551.5 380,547 384.4,557 391.4,562.7 399.8,571 411,567 422,569.6 437,562 457,568 473,577 487,573 495.5,568"/>
<polyline points="495.5,568 500.9,579 506.4,590 511.2,599.6 519,604.4 511.2,609 507.2,615.4 506.4,626.5"/>
<polyline points="506.4,626.5 498.5,625 490.6,623.4 482.7,629.7 476.3,634.5 470,632.9 463,628 450,640 447,650 437,647 430,635 411,638 391.4,641 383,652 372,657.8 367.6,669 374.6,680 372,694 372,708"/>
<polyline points="506.4,626.5 514.4,634.5 522.3,639.2 530.2,642.4 533.4,650.3 536.5,659.8 540.5,669.3 533.4,677.2 539.7,683.6 536.5,694"/>
<polyline points="536.5,694 528.6,704 519,715 522,724 526,730"/>
<polyline points="526,730 516.7,739 510,757 505.5,768 501,779.4 496.5,786 487.6,785 478.6,779.4 469.7,776 466,784 460.7,793 456,801.8 458.5,810.7 451.8,814 443,815"/>
<polyline points="536.5,694 549.2,696.2 561.9,691.5 571.4,696.2 584,699.4 596.7,697 607.8,694.7 618.9,691.5 630,685 636.3,688.3 644.3,689 653.8,686.7 661.7,684"/>
<polyline points="661.7,684 660.9,674 663.5,665.5"/>
<polyline points="549,505 567,507 580,520 593,533 602,550 613,558 618.9,569.5 626.8,582 630,601 634.8,620 637.9,636 645.9,644 653.8,651.9 660,658 663.5,665.5"/>
<polyline points="663.5,665.5 667,663"/>
<polyline points="667,663 669.6,655 665.7,642.4 668,629.7 661.7,618.6 668,606 680.7,594.9 683.9,587 677.5,580.6 688.6,575.8 698,569.5 695,563 705,562 717,564 720,562 725,552 737,545 747,534 748,522"/>
<polyline points="560.7,460 578.3,462 586,470 594,476 603.7,473 613.5,477.9 621.3,470 633,466 642.9,466 650.7,472 662.4,479.8 672.2,485.7 685.9,483.7 705.5,480.8 717.2,483"/>
<polyline points="717.2,483 729,486 731,492 725,499 730,505 740,507 744,515 748,522"/>
<polyline points="725,322 719.2,329 714.3,338.9 717.2,352.6 730.9,358.5 740.7,368 742.7,384 748.5,395.7 752.4,407.4 746.6,417"/>
<polyline points="746.6,417 742.7,423 737.8,434.8 734.8,450.5 727,460 719.2,470 717.2,483"/>
<polyline points="746.6,417 758,426 773,432 785.6,423.4 790.6,410.8 800.7,398 813,395.7 818,405.8 823,395.7 828.4,380.6 841,368 856,364 865.6,362.3"/>
<polyline points="864.6,268 857.9,278 865.4,285.5 867,292 863,299 857.8,309.5 863,316 865.6,326.5 863,335.6 867,342 866.3,352.5 865.6,362.3"/>
<polyline points="865.6,362.3 876,363.6 885.2,365.5 890.4,369.4"/>
<polyline points="890.4,369.4 894.3,366.8 895.6,360.3 902,356.4 909.9,354.5 915,357.7 922.9,362.9 929.4,366.8 934.6,372 941,372 947,370"/>
<polyline points="947,370 949,362.9 952.9,355 958,347.3 964.6,343.4 965.2,335.6 963.3,325.8 967.2,327.8 972.4,331.7 977.6,335.6 985.4,335.6 997,335 1012.8,333 1024.5,331.7 1032.3,327.8 1040,324.5 1049.2,324.5 1054.4,327.8 1058.3,331.7 1063.5,333.6"/>
<polyline points="1063.5,333.6 1070,331.7 1071.4,328.4 1064.8,325 1058.3,320 1055.7,316 1061,314.7 1071.4,317.3 1077.9,319.3 1080.5,314.7 1081.8,308.2 1078,304 1075,300"/>
<polyline points="1007.2,208.7 1010,215.4 1016,222.8 1026.6,231.8 1038.5,245 1049,257 1056.4,267.6 1064,275.8 1068,288.4 1071,296 1075,300"/>
<polyline points="1075,300 1083,296 1088,289.6 1095.6,289.6 1105.7,293.4 1118,293.4 1125.8,293.4 1133,296 1138.4,286 1151,284.6 1158.5,286 1163.5,278 1171,275.8 1176,273"/>
<polyline points="1063.5,333.6 1068,338.7 1074,351 1078,361 1088,366 1100.6,371 1110.7,379 1120.8,374 1133,369 1146,367.6 1153.5,371 1154.7,381.5 1159,384 1149,389 1153.5,396.6 1156,407"/>
<polyline points="1156,407 1176,405 1198.7,404 1211.3,401.6 1216.4,394 1210,386.5 1213.8,381.5 1221.4,386.5 1231.4,391.5 1236.5,401.6 1249,406.6 1261.6,409 1279,407"/>
<polyline points="1156,407 1158,425"/>
<polyline points="1158,425 1147,427 1130,423 1120,417 1110,417 1103,427 1087,430 1073,437 1053,440 1040,447 1020,440 1000,443 990,445"/>
<polyline points="947,370 952.9,374.6 958,381 962,389 965.9,394 971,400 973,420 977,433 990,445"/>
<polyline points="890.4,369.4 891.7,378.5 894.3,391.6 897,405 895,423 890,437 881,455 875,467 865,469 859,472 862,479 859,484 849,490 854,496 844,500 839,506 844.6,512 850.5,519.8 866,521.7 873.9,527.6 875.9,537.4"/>
<polyline points="748,522 754,520 765,520 775,526 787,529 799.6,523.7 813.3,521.7 815.2,529.6 816.2,545.2 819,551 830.9,550 840.7,546.2 848.5,552 854.4,547.2"/>
<polyline points="854.4,547.2 864,540.3 875.9,537.4"/>
<polyline points="875.9,537.4 885.7,540.3 897.4,539.4 913,541.3 919,549"/>
<polyline points="919,549 920.9,545.2 926.8,537.4 934.6,529.6 942.4,521.7 948.3,515.9 954.2,512 957,519.8 958,529.6 967.9,537.4 975.7,543.3 991.3,546.2 1010.9,544.2 1029,541.5"/>
<polyline points="1029,541.5 1032,517 1033,503 1020,500 1007,497 990,500 993,483 1003,473 997,460 990,445"/>
<polyline points="1029,541.5 1034.4,537.4 1041.2,534.5 1047,539.4 1050,546.2 1051,549"/>
<polyline points="1051,549 1060,554.5 1069.7,557 1077,549.7 1091.5,546 1110.9,543.6 1130,542.4 1140,543.8 1147.8,541 1155.7,533 1166,530.8 1174,525.5 1181.8,530.8 1187,526.9 1192,530.8 1200,535"/>
<polyline points="1158,425 1159.6,429 1168.7,436.8 1174,447 1181.8,463 1188,478.6 1193.5,494 1197.4,512.5 1198.7,530.8 1200,535"/>
<polyline points="1200,535 1203,540"/>
<polyline points="1203,540 1207.9,546.4 1210.5,559.5 1215.7,562 1218,556.9 1214.4,546.4 1213,536 1218,537 1228.8,538.6 1239,537 1247,543.8 1255,533 1270.5,537 1285,538"/>
<polyline points="1203,540 1192,543.8 1179,547.7 1166,551.7 1164.8,562 1170,575 1176.5,588 1181.8,601 1189.6,614 1197.4,624.8 1205,635 1210.5,645.7 1213,656"/>
<polyline points="1200.5,661 1213,656"/>
<polyline points="1051,549 1053,555 1052,566.8 1049,576.5 1049,592.2 1048,607.8"/>
<polyline points="1048,607.8 1045,619.6 1042.2,631.3 1038.3,637.2 1032.4,639.2 1029.5,635.2 1024.6,633.3 1022.7,639.2 1016.8,641 1010,648"/>
<polyline points="919,549 922.9,554 930.7,555 934.6,558.9 933.6,568.7 935.6,580.4 940.5,592.2 946.3,602 952.2,609.8 960,607.8 967.9,606.9 973.7,613.7 981.6,617.6 989.4,621.5 995.3,629.4 1003,637.2 1007,645 1010,648"/>
<polyline points="1048,607.8 1057.6,612.7 1064.8,622.4 1069.7,630.9 1081.8,633.3 1091.5,639.4 1101,644 1110.9,649 1120.6,654 1127.8,651.5 1137.5,656.3 1144.8,663.6 1154.5,667 1159.4,661 1171.5,666 1178.7,673 1188.4,672 1195.7,666 1200.5,661"/>
<polyline points="854.4,547.2 848.5,558.9 842.6,568.7 830.9,574.6 819,579.5 818.2,584.4 824,588.3 823,594 813.3,600 809.4,607.8 811.3,621.5 814.2,640"/>
<polyline points="794,645 805,643.5 814.2,640"/>
<polyline points="667,663 676,658 691.8,652.7 707.6,653.5 720,655 730,653.3 739.2,647.5 757.9,645 776.5,644 794,645"/>
<polyline points="794,645 790.5,660.3 792.8,676.6 789.3,690.6 788,707 790.5,723 789.3,739.5 790.5,753.5 787,760.5 788,770 787,779"/>
<polyline points="814.2,640 829,640 848.5,643 866,643 876,645 881.8,650.9 889.6,658.7 897.4,668.5 902.4,681.3"/>
<polyline points="902.4,681.3 909,676 917,668.5 922,665.5"/>
<polyline points="1010,648 1005,653.8"/>
<polyline points="922,665.5 940.5,662.6 956,659.7 964,664.6 971.8,660.7 977.7,668.5 983.6,660.7 989.4,655.8 999.2,654.8 1005,653.8"/>
<polyline points="902.4,681.3 900,693 895.4,704.6 890.7,714 881.4,710.4 876.7,723 877.9,732.5 884.9,739.5 881.4,748.9 884.9,762.8 883.7,781.5 881.4,797.8 882.6,811.8 890.7,821 897.7,828 893,835 894,844.4"/>
<polyline points="922,665.5 925.7,683.6 932.7,697.6 937.3,711.6 944.3,725.5 951.3,737 956,751 963,762.8 971.5,773.6 977.5,779.7 984.8,784.5 989.6,791.8 994.5,798"/>
<polyline points="1005,653.8 1006.7,666 1016.4,675.7 1023.6,683 1026,695 1030.9,707 1043,712 1052.7,714.5 1057.6,724 1064.8,736 1067.3,748.4 1077,753 1081.8,755.7 1072,763 1079.4,775 1084,778.7"/>
<polyline points="1084,778.7 1080.5,777 1073,781 1063.5,783.3 1061,788 1051.4,787 1041.7,791.8 1038,799"/>
<polyline points="994.5,798 1000.5,794.2 1009,792.4 1018.7,792.4 1028.4,795.4 1038,799"/>
<polyline points="994.5,798 993.9,801.5 993.3,810 990.9,822 987.2,829.4"/>
<polyline points="987.2,829.4 977.5,829.4 970.3,829.4 965.4,827 961.8,828 959.4,830.6 948.5,831.8 938.8,834.2 929,839"/>
<polyline points="929,839 920.6,841.5 914.5,835.4 910.9,841.5 904.8,850 900,853 894,844.4"/>
<polyline points="894,844.4 883.7,850 869.7,854.9 855.8,857 841.8,859.5 830,860.7"/>
<polyline points="787,779 794,767.5 798.7,769.8 802,779 804.5,790.8 811.5,795.5 820.8,796.6 816,802.5 818.5,816.4 820.8,835 823,851.4 830,860.7"/>
<polyline points="704.3,839.7 720.6,837.4 737,835 750.9,830.4 762.5,823.4 760.2,807 762.5,793 769.5,779 776.5,769 781,776.8 787,779"/>
<polyline points="661.7,684 669.6,686.7 680.7,691.5 691.8,686.7 698,691.5 695,702.6 693.4,718.4 692.6,727.9 690.3,746.5 688,769.8 685.6,790 686,800"/>
<polyline points="686,800 690.3,807 699.6,816.4 704.3,830.4 704.3,839.7"/>
<polyline points="686,800 684,808 677,817 660,821 642,823"/>
<polyline points="526,730 534.5,732.5 548,741 559,752.6 566,768 572.5,781.7 583.7,790.6 597,799.6 615,808.5 630.7,817.5 642,823"/>
<polyline points="642,823 642,831 630.7,831 617,835 610.6,844 606,855.5 610.6,857.7 601.6,869 595,880 590.6,884 585,895.6 577.5,907 576,910"/>
<polyline points="704.3,839.7 713,850 720,860 727.5,867.5 737,877 746,886 752,893.8 753.8,903 752.8,912.5 755.6,916 746,920 743.4,924.7 750,926.6 757.5,929.4 755.6,937 751,940.6 752.8,948 748,952 749,961 742.5,965 738.8,974.4 735,984"/>
<polyline points="830,860.7 834.4,864 835.3,871 832.5,878.8 833.4,886 830.6,893.8 832.5,903 836,910.6 828.8,916 815.6,922 802.5,924.7 799.7,929.4 802.5,938.8 806,950 812,959.4 819.4,967 815.6,971.6 808,976"/>
<polyline points="929,839 931.5,842.7 926.6,850 923,859.6 927.9,864.5 930.3,870.5 940,873 949.7,876.6 954.5,881.4 955.7,890 951,900.6 945.6,913.8 943.8,925 947.5,934 950,943.8 949.4,955 952,966 955,979 957,990"/>
<polyline points="987.2,829.4 989.6,831.8 993.3,839 995,847.5 995.7,857.2 994.5,866.9 997,870.5 1005.4,870.5 1009,874.2 1018.7,873 1027.2,870.5 1035.7,867"/>
<polyline points="1038,799 1039.3,805 1045.4,816 1053.8,825.7 1056.3,830"/>
<polyline points="1056.3,830 1051.4,835.4 1047.8,841.5 1051.4,847.5 1049,852.4 1041.7,854.8 1039.3,862 1035.7,867"/>
<polyline points="1035.7,867 1043,870.5 1052.6,875.4 1058.7,881.4 1062.3,888.7 1069.6,894.8 1071,897.8 1064.7,902.5 1060,907 1065.6,915.6 1067.5,920"/>
<polyline points="1056.3,830 1056.3,827 1069.6,826.3 1079.3,829.4 1085.3,835.4 1089,840.3 1098.7,841.5 1108.4,839 1115.6,833 1120,830.6 1140,830 1160,829 1180,827.4 1200.5,829.4 1221,833.5 1235.3,839.7 1247.6,850 1262,858 1276.3,862.2 1286.6,862.5"/>
<polyline points="1084,778.7 1101,780 1120.6,781 1140,780 1154.5,782.4 1160,789"/>
<polyline points="1200.5,661 1195.7,670.9 1192,680.6 1188.4,690 1181,697.5 1171.5,700 1159.4,698.7 1152,704.8 1147.2,712 1152,719.4 1161.8,714.5 1166.6,724 1173.9,731.5 1176.3,746 1171.5,758 1166.6,770 1164.2,782.4 1160,789"/>
<polyline points="1160,789 1171.5,784.8 1186,781 1198,782.4 1212.7,780 1229.6,781 1246.6,780 1258,779.5 1270,783"/>
<polyline points="1270,783 1282.5,784 1291.5,779.5"/>
<polyline points="1270,783 1262,790.5 1264,798.7 1276.3,800.7 1284.5,806.9 1286.6,819.2 1294.8,831.5 1298.9,841.7 1294.8,852 1286.6,862.5"/>
<polyline points="1286.6,862.5 1282.5,870.4 1272,876.6 1258,881.7 1241.5,886.8 1227,893 1217,899 1204.6,903 1192.3,904 1186,905"/>
<polyline points="1213,656 1222.4,658.8 1236.9,663.6 1251.5,668.5 1266,670.5 1280,671.5"/>
<polyline points="1280,671.5 1290.6,667 1300,663 1305,660"/>
<polyline points="1280,671.5 1279.5,682.3 1281,690.2 1290.6,691.8 1293.8,699.7 1293,707.7 1298.5,714 1301.7,721.9 1300,734.6 1298.5,750.4 1295.4,766.3 1291.5,779.5"/>
<polyline points="1291.5,779.5 1306.5,779 1311.2,785.3 1319,782 1325.5,790 1333.4,798 1342,804.8 1350,798.7 1364.5,800.7 1376.8,798.7 1391,800.7 1400,802 1410,805 1417,809"/>
</g>
<g fill="#fff" stroke="#7f8580" stroke-width="2.6" stroke-linejoin="round">
<polygon points="1401.5,745.7 1407.9,742.5 1411,737.8 1415.8,734.6 1422,733.8 1430,737.8 1434.8,739.4 1433.2,744 1428.5,750.4 1429.3,758.4 1431.6,764.7 1435.6,766.3 1439.6,763 1443.5,767.9 1444.3,772.6 1438,777.4 1428.5,780.5 1419,783 1412.6,780.5 1412.6,772.6 1409.5,767.9 1406.3,761.5 1402.3,755.2 1400.7,748.9"/>
<polygon points="1382,788 1390,789 1399,784 1405.6,782.6 1417,784 1421,785 1422.6,793 1416,803.5 1412,811 1408,816.5 1403,819 1395,823 1391,828 1389,824 1388,819 1392.6,810 1393,801 1391,795.6 1385,793 1382,790.4"/>
<polyline fill="none" points="1394,809 1401,800 1409,794 1415,795"/>
<polyline fill="none" points="1414,810 1419,801 1421,792"/>
</g>
<g class="lab">
<text x="528" y="260" textLength="39" lengthAdjust="spacingAndGlyphs" stroke="#0e2a16" stroke-width="0.35">SM</text>
<text x="512" y="297" textLength="71" lengthAdjust="spacingAndGlyphs" stroke="#0e2a16" stroke-width="0.35">78.2%</text>
<text x="670" y="264" textLength="50" lengthAdjust="spacingAndGlyphs" stroke="#0e2a16" stroke-width="0.35">MM</text>
<text x="658" y="300" textLength="72" lengthAdjust="spacingAndGlyphs" stroke="#0e2a16" stroke-width="0.35">82.4%</text>
<text x="590" y="347" textLength="23" lengthAdjust="spacingAndGlyphs" stroke="#0e2a16" stroke-width="1.37">SJ</text>
<text x="566" y="383" textLength="71" lengthAdjust="spacingAndGlyphs" stroke="#0e2a16" stroke-width="0.35">74.4%</text>
<text x="454" y="389" textLength="33" lengthAdjust="spacingAndGlyphs" stroke="#0e2a16" stroke-width="0.66">BH</text>
<text x="436" y="425" textLength="71" lengthAdjust="spacingAndGlyphs" stroke="#0e2a16" stroke-width="0.35">78.6%</text>
<text x="644" y="413" textLength="23" lengthAdjust="spacingAndGlyphs" stroke="#0e2a16" stroke-width="1.40">CJ</text>
<text x="618" y="457" textLength="72.5" lengthAdjust="spacingAndGlyphs" stroke="#0e2a16" stroke-width="0.35">82.6%</text>
<text x="770" y="340" textLength="33" lengthAdjust="spacingAndGlyphs" stroke="#0e2a16" stroke-width="0.66">BN</text>
<text x="751" y="373" textLength="71" lengthAdjust="spacingAndGlyphs" stroke="#0e2a16" stroke-width="0.35">77.9%</text>
<text x="1075" y="216" textLength="30" lengthAdjust="spacingAndGlyphs" stroke="#0e2a16" stroke-width="0.71">BT</text>
<text x="1053" y="250.7" textLength="73" lengthAdjust="spacingAndGlyphs" stroke="#0e2a16" stroke-width="0.35">78.4%</text>
<text x="939" y="272.7" textLength="30" lengthAdjust="spacingAndGlyphs" stroke="#0e2a16" stroke-width="0.71">SV</text>
<text x="919" y="308" textLength="72.7" lengthAdjust="spacingAndGlyphs" stroke="#0e2a16" stroke-width="0.35">71.8%</text>
<text x="1148" y="310.7" textLength="21" lengthAdjust="spacingAndGlyphs" stroke="#0e2a16" stroke-width="0.75">IS</text>
<text x="1121.7" y="355" textLength="71.3" lengthAdjust="spacingAndGlyphs" stroke="#0e2a16" stroke-width="0.35">79.9%</text>
<text x="1008" y="368" textLength="32" lengthAdjust="spacingAndGlyphs" stroke="#0e2a16" stroke-width="0.50">NT</text>
<text x="987" y="404" textLength="73" lengthAdjust="spacingAndGlyphs" stroke="#0e2a16" stroke-width="0.35">81.7%</text>
<text x="910.7" y="458" textLength="33.3" lengthAdjust="spacingAndGlyphs" stroke="#0e2a16" stroke-width="0.63">HR</text>
<text x="891.7" y="492.7" textLength="72.3" lengthAdjust="spacingAndGlyphs" stroke="#0e2a16" stroke-width="0.35">78.5%</text>
<text x="1081.7" y="481.5" textLength="31.3" lengthAdjust="spacingAndGlyphs" stroke="#0e2a16" stroke-width="0.84">BC</text>
<text x="1061.7" y="516.7" textLength="71.3" lengthAdjust="spacingAndGlyphs" stroke="#0e2a16" stroke-width="0.35">76.8%</text>
<text x="1226" y="460.5" textLength="30" lengthAdjust="spacingAndGlyphs" stroke="#0e2a16" stroke-width="0.71">VS</text>
<text x="1203.5" y="495.5" textLength="73" lengthAdjust="spacingAndGlyphs" stroke="#0e2a16" stroke-width="0.35">78.3%</text>
<text x="400" y="499" textLength="33" lengthAdjust="spacingAndGlyphs" stroke="#0e2a16" stroke-width="0.66">AR</text>
<text x="381" y="535" textLength="72" lengthAdjust="spacingAndGlyphs" stroke="#0e2a16" stroke-width="0.35">76.7%</text>
<text x="621.7" y="517" textLength="32.3" lengthAdjust="spacingAndGlyphs" stroke="#0e2a16" stroke-width="0.73">AB</text>
<text x="621.7" y="553" textLength="73.3" lengthAdjust="spacingAndGlyphs" stroke="#0e2a16" stroke-width="0.35">80.3%</text>
<text x="315" y="603" textLength="38" lengthAdjust="spacingAndGlyphs" stroke="#0e2a16" stroke-width="0.35">TM</text>
<text x="298" y="639" textLength="72.7" lengthAdjust="spacingAndGlyphs" stroke="#0e2a16" stroke-width="0.35">76.4%</text>
<text x="551.7" y="603" textLength="35" lengthAdjust="spacingAndGlyphs" stroke="#0e2a16" stroke-width="0.35">HD</text>
<text x="533" y="639" textLength="72.7" lengthAdjust="spacingAndGlyphs" stroke="#0e2a16" stroke-width="0.35">76.7%</text>
<text x="733.5" y="591.7" textLength="29.5" lengthAdjust="spacingAndGlyphs" stroke="#0e2a16" stroke-width="0.91">SB</text>
<text x="712.5" y="627" textLength="73" lengthAdjust="spacingAndGlyphs" stroke="#0e2a16" stroke-width="0.35">78.4%</text>
<text x="433" y="713" textLength="27.7" lengthAdjust="spacingAndGlyphs" stroke="#0e2a16" stroke-width="1.14">CS</text>
<text x="411" y="747" textLength="72.5" lengthAdjust="spacingAndGlyphs" stroke="#0e2a16" stroke-width="0.35">68.6%</text>
<text x="775" y="468" textLength="37" lengthAdjust="spacingAndGlyphs" stroke="#0e2a16" stroke-width="0.35">MS</text>
<text x="757" y="503" textLength="73" lengthAdjust="spacingAndGlyphs" stroke="#0e2a16" stroke-width="0.35">78.6%</text>
<text x="615" y="737.5" textLength="26.7" lengthAdjust="spacingAndGlyphs" stroke="#0e2a16" stroke-width="1.13">GJ</text>
<text x="591.7" y="773" textLength="73.3" lengthAdjust="spacingAndGlyphs" stroke="#0e2a16" stroke-width="0.35">83.3%</text>
<text x="724" y="721" textLength="29" lengthAdjust="spacingAndGlyphs" stroke="#0e2a16" stroke-width="0.68">VL</text>
<text x="701.7" y="756" textLength="73.3" lengthAdjust="spacingAndGlyphs" stroke="#0e2a16" stroke-width="0.35">80.9%</text>
<text x="989" y="573" textLength="31.7" lengthAdjust="spacingAndGlyphs" stroke="#0e2a16" stroke-width="0.66">CV</text>
<text x="969" y="609" textLength="73" lengthAdjust="spacingAndGlyphs" stroke="#0e2a16" stroke-width="0.35">68.8%</text>
<text x="868" y="592.7" textLength="32" lengthAdjust="spacingAndGlyphs" stroke="#0e2a16" stroke-width="0.63">BV</text>
<text x="849" y="628" textLength="72.7" lengthAdjust="spacingAndGlyphs" stroke="#0e2a16" stroke-width="0.35">77.3%</text>
<text x="1105" y="590" textLength="35" lengthAdjust="spacingAndGlyphs" stroke="#0e2a16" stroke-width="0.35">VN</text>
<text x="1086.7" y="626.7" textLength="72.3" lengthAdjust="spacingAndGlyphs" stroke="#0e2a16" stroke-width="0.35">76.6%</text>
<text x="1229" y="583" textLength="31" lengthAdjust="spacingAndGlyphs" stroke="#0e2a16" stroke-width="0.74">GL</text>
<text x="1208" y="620" textLength="72.7" lengthAdjust="spacingAndGlyphs" stroke="#0e2a16" stroke-width="0.35">78.2%</text>
<text x="1090" y="681.7" textLength="30" lengthAdjust="spacingAndGlyphs" stroke="#0e2a16" stroke-width="0.71">BZ</text>
<text x="1068" y="716.5" textLength="73" lengthAdjust="spacingAndGlyphs" stroke="#0e2a16" stroke-width="0.35">75.2%</text>
<text x="1222" y="706" textLength="32" lengthAdjust="spacingAndGlyphs" stroke="#0e2a16" stroke-width="0.76">BR</text>
<text x="1201.7" y="747.5" textLength="72.3" lengthAdjust="spacingAndGlyphs" stroke="#0e2a16" stroke-width="0.35">71.8%</text>
<text x="983" y="716.5" textLength="32" lengthAdjust="spacingAndGlyphs" stroke="#0e2a16" stroke-width="0.63">PH</text>
<text x="963" y="751.5" textLength="73.7" lengthAdjust="spacingAndGlyphs" stroke="#0e2a16" stroke-width="0.35">76.0%</text>
<text x="815" y="723.5" textLength="35.7" lengthAdjust="spacingAndGlyphs" stroke="#0e2a16" stroke-width="0.53">AG</text>
<text x="796" y="759" textLength="73" lengthAdjust="spacingAndGlyphs" stroke="#0e2a16" stroke-width="0.35">66.3%</text>
<text x="1340.5" y="725.3" textLength="25.5" lengthAdjust="spacingAndGlyphs" stroke="#0e2a16" stroke-width="0.97">TL</text>
<text x="1316" y="760" textLength="73" lengthAdjust="spacingAndGlyphs" stroke="#0e2a16" stroke-width="0.35">63.6%</text>
<text x="1310" y="869" textLength="29" lengthAdjust="spacingAndGlyphs" stroke="#0e2a16" stroke-width="0.82">CT</text>
<text x="1289" y="904.5" textLength="72" lengthAdjust="spacingAndGlyphs" stroke="#0e2a16" stroke-width="0.35">73.6%</text>
<text x="908" y="771" textLength="33.5" lengthAdjust="spacingAndGlyphs" stroke="#0e2a16" stroke-width="0.61">DB</text>
<text x="888" y="806.7" textLength="73" lengthAdjust="spacingAndGlyphs" stroke="#0e2a16" stroke-width="0.35">81.1%</text>
<text x="545" y="819" textLength="43" lengthAdjust="spacingAndGlyphs" stroke="#0e2a16" stroke-width="0.35">MH</text>
<text x="531.7" y="856.7" textLength="73.3" lengthAdjust="spacingAndGlyphs" stroke="#0e2a16" stroke-width="0.35">72.2%</text>
<text x="650.7" y="891.7" textLength="26.3" lengthAdjust="spacingAndGlyphs" stroke="#0e2a16" stroke-width="1.02">DJ</text>
<text x="628" y="926" textLength="72.7" lengthAdjust="spacingAndGlyphs" stroke="#0e2a16" stroke-width="0.35">79.3%</text>
<text x="773" y="859" textLength="32" lengthAdjust="spacingAndGlyphs" stroke="#0e2a16" stroke-width="0.63">OT</text>
<text x="753" y="888" textLength="72.7" lengthAdjust="spacingAndGlyphs" stroke="#0e2a16" stroke-width="0.35">61.3%</text>
<text x="868.5" y="916.7" textLength="29" lengthAdjust="spacingAndGlyphs" stroke="#0e2a16" stroke-width="0.82">TR</text>
<text x="847" y="949" textLength="73.5" lengthAdjust="spacingAndGlyphs" stroke="#0e2a16" stroke-width="0.35">76.6%</text>
<text x="1125" y="863" textLength="26.7" lengthAdjust="spacingAndGlyphs" stroke="#0e2a16" stroke-width="1.12">CL</text>
<text x="1102.7" y="897" textLength="72.3" lengthAdjust="spacingAndGlyphs" stroke="#0e2a16" stroke-width="0.35">74.5%</text>
<text x="972.7" y="897" textLength="33.3" lengthAdjust="spacingAndGlyphs" stroke="#0e2a16" stroke-width="0.76">GR</text>
<text x="953" y="932.7" textLength="73" lengthAdjust="spacingAndGlyphs" stroke="#0e2a16" stroke-width="0.35">68.6%</text>
<text x="1009" y="866" textLength="20" lengthAdjust="spacingAndGlyphs" stroke="#0e2a16" stroke-width="0.71">IF</text>
<text x="983" y="826.7" textLength="73" lengthAdjust="spacingAndGlyphs" stroke="#0e2a16" stroke-width="0.35">76.4%</text>
<text x="1128" y="816.7" textLength="18.7" lengthAdjust="spacingAndGlyphs" stroke="#0e2a16" stroke-width="0.94">IL</text>
<text x="1155" y="816.7" textLength="72" lengthAdjust="spacingAndGlyphs" stroke="#0e2a16" stroke-width="0.35">79.8%</text>
</g>
<g class="buc">
<polygon fill="#5ac96e" points="1412.5,335 1415,326 1417.5,318.75 1412.5,312.5 1413.75,307.5 1420,305 1422.5,310 1431.25,304.75 1438.75,301 1440,288.5 1445,283.5 1452.5,279.75 1453.75,272.25 1457.5,268.5 1461.25,272.25 1472.5,267.25 1475,262.25 1485,261 1493.75,258.5 1495,252.25 1501.25,249 1506.25,249.75 1508.75,254.75 1518.75,254 1526.25,250.4 1531.25,252.25 1531.9,261 1531.9,273.5 1533,283.5 1533,294.75 1538.75,296.6 1533.75,301 1536.25,307.25 1539.4,312.25 1540,318.5 1540,318.5 1535,322.25 1528.75,328.5 1530,336 1529.4,342.5 1528.75,361.25 1527,385.3 1507.5,382 1507.5,381 1505,373.75 1500,364.75 1495,356 1485,347.25 1473.75,339.75 1461.25,333.5 1451.25,327.9 1435,327.9 1420,329.5 1412.5,335"/>
<polygon fill="#3bc063" points="1540,318.5 1557.5,321 1576.25,324.75 1592.5,327.9 1602.5,329.75 1600,334.75 1595,342.25 1590,349.75 1585.5,355 1592.5,357.5 1598.75,360.6 1605,360 1604.4,367.5 1613.75,367.5 1615,360 1618.75,360 1618.75,366.9 1623.75,368.75 1625,373.75 1625,373.75 1612.5,377.5 1593.75,382.5 1575,386.25 1556.25,388.75 1541.25,387.5 1527,385.3 1528.75,361.25 1529.4,342.5 1530,336 1528.75,328.5 1535,322.25 1540,318.5"/>
<polygon fill="#04af4f" points="1625,373.75 1632.5,373 1632.5,366.9 1635,368.75 1636.25,375 1648.75,376.9 1650,372.5 1653.75,376.25 1658.75,377.5 1660,385 1656.25,390 1650,391.25 1648.75,397.5 1645,405 1643.75,412.5 1645,418.75 1637.5,421.25 1633.75,426.25 1630,431.25 1620,432.5 1606.25,433 1595,431.25 1586,429.5 1586,429.5 1575,423.75 1560,418.75 1547.5,415.5 1541.25,406.25 1536.25,397.5 1530,392 1527,385.3 1541.25,387.5 1556.25,388.75 1575,386.25 1593.75,382.5 1612.5,377.5 1625,373.75"/>
<polygon fill="#5cca6e" points="1586,429.5 1579.6,442 1574.6,455.5 1571.2,469 1579.6,482.4 1586.3,492.4 1591.3,494 1593.9,500 1584.6,504.2 1586.3,507.5 1579.6,512.6 1572.9,507.5 1565.3,505.9 1567.9,500.8 1562.8,492.4 1557.8,485.7 1546,484 1542.7,477.3 1539.3,471.5 1527.6,470.6 1522.5,472.3 1519.2,466.4 1519.2,466.4 1520,450.5 1522.5,433.7 1524.2,422 1519.2,413.6 1518.5,405.2 1522.5,395 1527,385.3 1530,392 1536.25,397.5 1541.25,406.25 1547.5,415.5 1560,418.75 1575,423.75 1586,429.5"/>
<polygon fill="#37bf61" points="1519.2,466.4 1504,463.9 1487.3,460.6 1473.9,457.2 1467.2,450.5 1463.8,443.8 1457,438.8 1450.4,430.4 1445.4,424.5 1437,423.7 1425,419.5 1425,419.5 1445.4,415.3 1467.2,411 1489,406.9 1490.7,396.8 1492.3,386.7 1497.4,383.4 1507.5,382.6 1507.5,382 1527,385.3 1522.5,395 1518.5,405.2 1519.2,413.6 1524.2,422 1522.5,433.7 1520,450.5 1519.2,466.4"/>
<polygon fill="#57c86d" points="1425,419.5 1411.8,422 1408.5,418.6 1403.4,410.2 1396.7,406.9 1399.2,396.8 1396.7,388.4 1400,380 1416.25,377.5 1435,377 1446.25,376 1450,371 1447.5,365 1446.25,358.75 1435,356 1422.5,352.5 1409.4,346.5 1412.5,335 1412.5,335 1420,329.5 1435,327.9 1451.25,327.9 1461.25,333.5 1473.75,339.75 1485,347.25 1495,356 1500,364.75 1505,373.75 1507.5,381 1507.5,382 1507.5,382.6 1497.4,383.4 1492.3,386.7 1490.7,396.8 1489,406.9 1467.2,411 1445.4,415.3 1425,419.5"/>
</g>
<g class="bbrd">
<polyline points="1412.5,335 1420,329.5 1435,327.9 1451.25,327.9 1461.25,333.5 1473.75,339.75 1485,347.25 1495,356 1500,364.75 1505,373.75 1507.5,381 1507.5,382"/>
<polyline points="1425,419.5 1445.4,415.3 1467.2,411 1489,406.9 1490.7,396.8 1492.3,386.7 1497.4,383.4 1507.5,382.6 1507.5,382 1527,385.3"/>
<polyline points="1540,318.5 1535,322.25 1528.75,328.5 1530,336 1529.4,342.5 1528.75,361.25 1527,385.3"/>
<polyline points="1625,373.75 1612.5,377.5 1593.75,382.5 1575,386.25 1556.25,388.75 1541.25,387.5 1527,385.3"/>
<polyline points="1586,429.5 1575,423.75 1560,418.75 1547.5,415.5 1541.25,406.25 1536.25,397.5 1530,392 1527,385.3"/>
<polyline points="1519.2,466.4 1520,450.5 1522.5,433.7 1524.2,422 1519.2,413.6 1518.5,405.2 1522.5,395 1527,385.3"/>
<polygon points="1412.5,335 1415,326 1417.5,318.75 1412.5,312.5 1413.75,307.5 1420,305 1422.5,310 1431.25,304.75 1438.75,301 1440,288.5 1445,283.5 1452.5,279.75 1453.75,272.25 1457.5,268.5 1461.25,272.25 1472.5,267.25 1475,262.25 1485,261 1493.75,258.5 1495,252.25 1501.25,249 1506.25,249.75 1508.75,254.75 1518.75,254 1526.25,250.4 1531.25,252.25 1531.9,261 1531.9,273.5 1533,283.5 1533,294.75 1538.75,296.6 1533.75,301 1536.25,307.25 1539.4,312.25 1540,318.5 1557.5,321 1576.25,324.75 1592.5,327.9 1602.5,329.75 1600,334.75 1595,342.25 1590,349.75 1585.5,355 1592.5,357.5 1598.75,360.6 1605,360 1604.4,367.5 1613.75,367.5 1615,360 1618.75,360 1618.75,366.9 1623.75,368.75 1625,373.75 1632.5,373 1632.5,366.9 1635,368.75 1636.25,375 1648.75,376.9 1650,372.5 1653.75,376.25 1658.75,377.5 1660,385 1656.25,390 1650,391.25 1648.75,397.5 1645,405 1643.75,412.5 1645,418.75 1637.5,421.25 1633.75,426.25 1630,431.25 1620,432.5 1606.25,433 1595,431.25 1586,429.5 1579.6,442 1574.6,455.5 1571.2,469 1579.6,482.4 1586.3,492.4 1591.3,494 1593.9,500 1584.6,504.2 1586.3,507.5 1579.6,512.6 1572.9,507.5 1565.3,505.9 1567.9,500.8 1562.8,492.4 1557.8,485.7 1546,484 1542.7,477.3 1539.3,471.5 1527.6,470.6 1522.5,472.3 1519.2,466.4 1504,463.9 1487.3,460.6 1473.9,457.2 1467.2,450.5 1463.8,443.8 1457,438.8 1450.4,430.4 1445.4,424.5 1437,423.7 1425,419.5 1411.8,422 1408.5,418.6 1403.4,410.2 1396.7,406.9 1399.2,396.8 1396.7,388.4 1400,380 1416.25,377.5 1435,377 1446.25,376 1450,371 1447.5,365 1446.25,358.75 1435,356 1422.5,352.5 1409.4,346.5"/>
</g>
<g class="blab">
<text x="1457" y="170.6" textLength="112.4" lengthAdjust="spacingAndGlyphs">București</text>
<text x="1460" y="205.6" textLength="105" lengthAdjust="spacingAndGlyphs" font-size="23">(77,91%)</text>
<text x="1416.3" y="256.3" textLength="71.8" lengthAdjust="spacingAndGlyphs">75.4%</text>
<text x="1608" y="312.3" textLength="72.6" lengthAdjust="spacingAndGlyphs">78.3%</text>
<text x="1324.4" y="376.25" textLength="71.85" lengthAdjust="spacingAndGlyphs">75.7%</text>
<text x="1651.9" y="450.6" textLength="71.85" lengthAdjust="spacingAndGlyphs">83.5%</text>
<text x="1402.6" y="482.4" textLength="71.3" lengthAdjust="spacingAndGlyphs">78.7%</text>
<text x="1564.5" y="543.6" textLength="71.3" lengthAdjust="spacingAndGlyphs">75.2%</text>
<text x="1486.9" y="309.5" textLength="11.6" lengthAdjust="spacingAndGlyphs">1</text>
<text x="1553.5" y="361.5" textLength="12.5" lengthAdjust="spacingAndGlyphs">2</text>
<text x="1595.8" y="411.7" textLength="13" lengthAdjust="spacingAndGlyphs">3</text>
<text x="1543.3" y="454" textLength="13.7" lengthAdjust="spacingAndGlyphs">4</text>
<text x="1486.5" y="444.8" textLength="13.4" lengthAdjust="spacingAndGlyphs">5</text>
<text x="1461.25" y="380.6" textLength="13.75" lengthAdjust="spacingAndGlyphs">6</text>
</g>
<rect x="199.75" y="1013.75" width="1326.5" height="35.75" fill="url(#lg)" stroke="#7a7a6c" stroke-width="3.5"/>
<text x="193.5" y="1070.3" textLength="77.5" lengthAdjust="spacingAndGlyphs" font-family="Liberation Sans, sans-serif" font-size="23.5" fill="#1c1c1c" stroke="#1c1c1c" stroke-width=".45">61.29%</text>
<text x="1440" y="1069.8" textLength="88" lengthAdjust="spacingAndGlyphs" font-family="Liberation Sans, sans-serif" font-size="24" fill="#1c1c1c" stroke="#1c1c1c" stroke-width=".45">83.53%</text>
</g>
</svg>
</body>
</html>
